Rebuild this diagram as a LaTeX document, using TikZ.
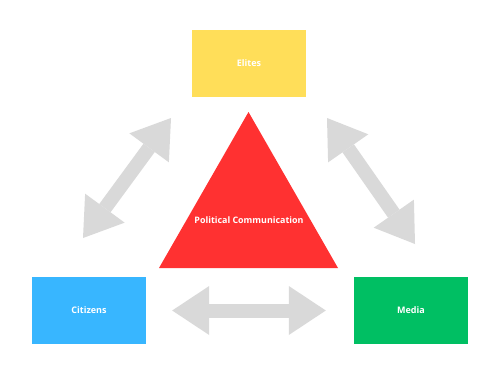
\documentclass[tikz,border=0pt]{standalone}
\usepackage{fontspec}
\setmainfont{Open Sans}
\definecolor{pcyellow}{RGB}{255,222,89}
\definecolor{pcblue}{RGB}{56,182,255}
\definecolor{pcgreen}{RGB}{0,191,99}
\definecolor{pcred}{RGB}{255,49,49}
\definecolor{pcgray}{RGB}{217,217,217}
\usetikzlibrary{arrows.meta,positioning,calc}

\begin{document}
\begin{tikzpicture}[x=1pt, y=-1pt,
  actorbox/.style={minimum height=67pt, minimum width=114pt, align=center,
    text=white, font=\fontsize{9}{11}\selectfont\bfseries},
  bigarrow/.style={pcgray, line width=14pt,
    {Triangle[length=37pt, width=49pt, line width=0pt]}-{Triangle[length=37pt, width=49pt, line width=0pt]}}]
\useasboundingbox[fill=white] (0,0) rectangle (500,375);

% Box 1: Elites
\node[actorbox, fill=pcyellow] (elites) at (249,63.5) {Elites};

% Box 2: Citizens
\node[actorbox, fill=pcblue] (citizens) at (89,310.5) {Citizens};

% Box 3: Media
\node[actorbox, fill=pcgreen] (media) at (411,310.5) {Media};

% Triangle in the middle
\coordinate (apex) at (248.5,112);
\coordinate (baseL) at (159,268);
\coordinate (baseR) at (338,268);
\fill[pcred] (apex) -- (baseR) -- (baseL) -- cycle;
\node[text=white, font=\fontsize{8.9}{11}\selectfont\bfseries] (polcom) at (249,220)
  {Political Communication};

% Arrows
\coordinate (leftTop) at (171,118);
\coordinate (leftBot) at (83,238);
\coordinate (rightTop) at (327,118);
\coordinate (rightBot) at (415,244);
\draw[bigarrow] (leftTop) -- (leftBot);
\draw[bigarrow] (rightTop) -- (rightBot);
\draw[bigarrow, shorten <=26pt, shorten >=28pt] (citizens) -- (media);

\end{tikzpicture}
\end{document}
